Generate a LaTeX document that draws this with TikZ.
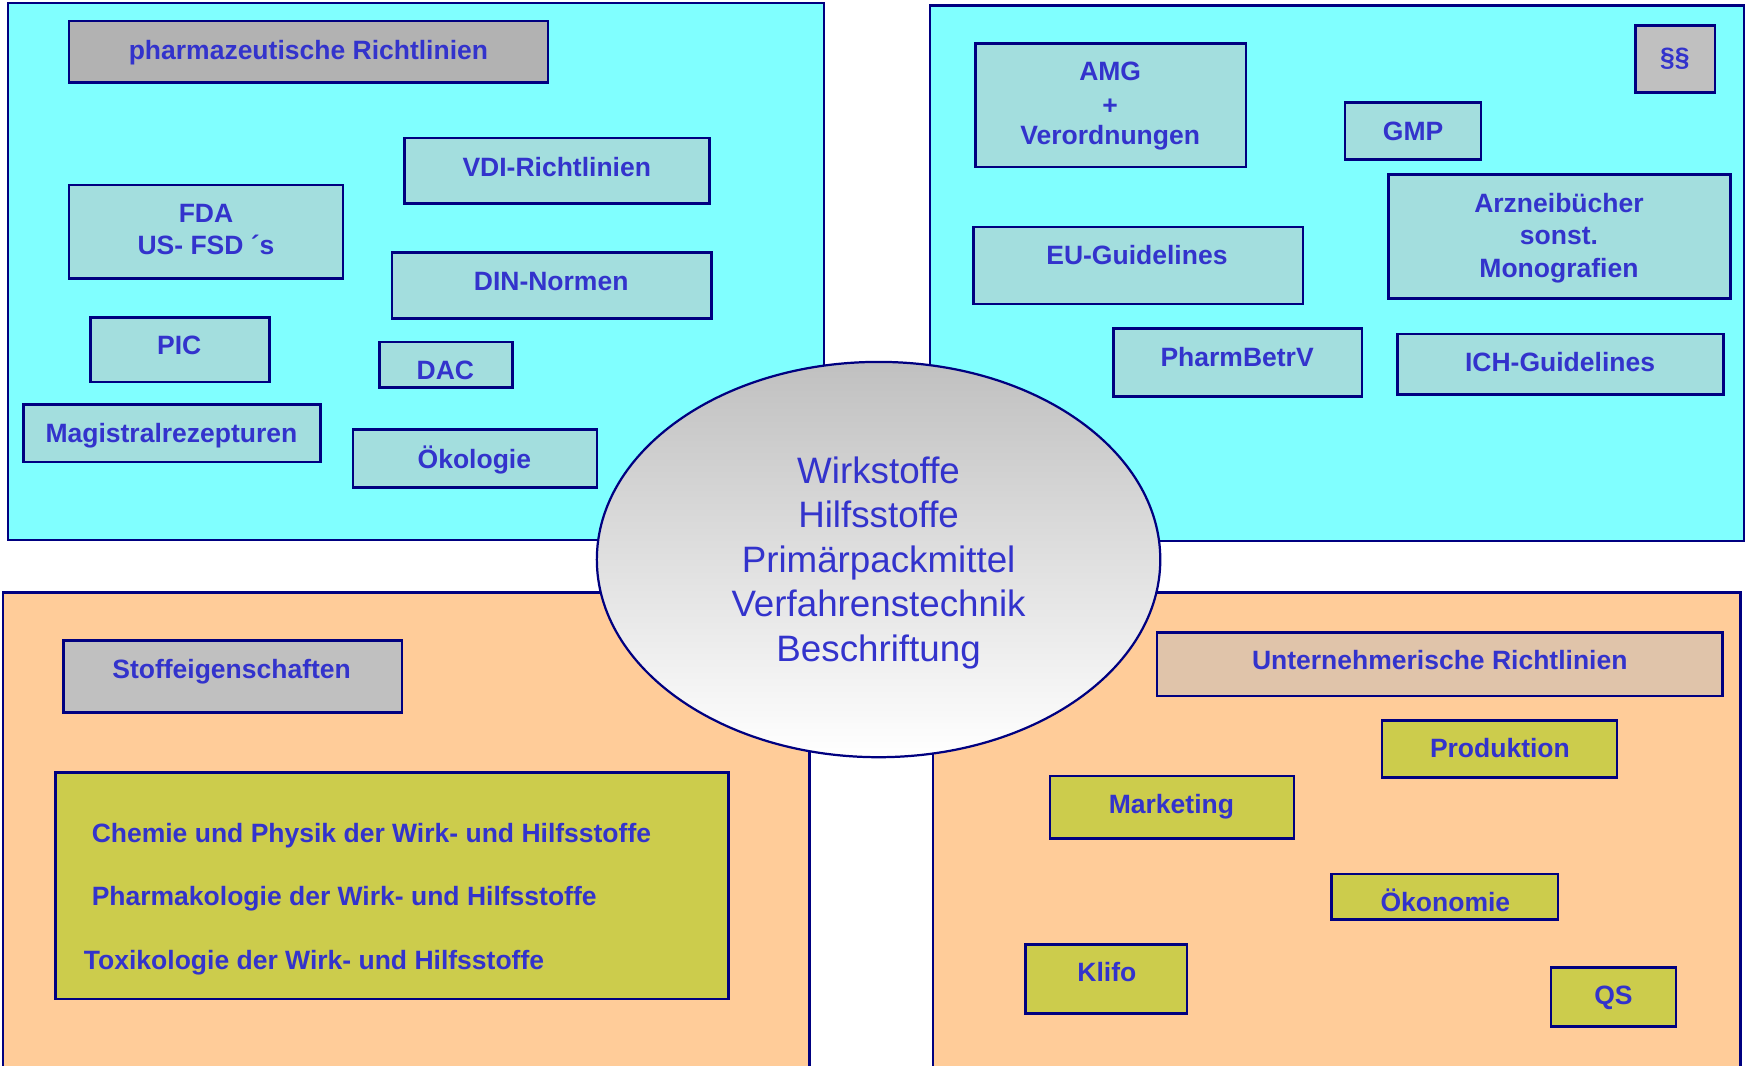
\documentclass[tikz,border=0pt]{standalone}
\usepackage{fontspec}
\setmainfont{Liberation Sans}
\usetikzlibrary{fit,shapes.geometric}
\definecolor{navy}{RGB}{0,0,128}
\definecolor{txtblue}{RGB}{51,51,204}
\definecolor{cyanbg}{RGB}{128,255,255}
\definecolor{peach}{RGB}{255,204,153}
\definecolor{tealbox}{RGB}{163,222,222}
\definecolor{grayboxa}{RGB}{178,178,178}
\definecolor{grayboxb}{RGB}{192,192,192}
\definecolor{olivebox}{RGB}{204,204,76}
\definecolor{tanbox}{RGB}{224,196,170}
\begin{document}
\begin{tikzpicture}[x=0.5pt,y=-0.5pt,
  panel/.style={draw=navy, line width=1pt, inner sep=0pt},
  frame/.style={draw=navy, line width=1.2pt, inner sep=0pt},
  lbl/.style={text=txtblue, font=\fontsize{11.9}{14}\selectfont\bfseries, anchor=base, inner sep=0pt},
  lblw/.style={lbl, anchor=base west},
  ctr/.style={text=txtblue, font=\fontsize{16.5}{20}\selectfont, anchor=base, inner sep=0pt}]
\clip (0,0) rectangle (1568,957);
\fill[white] (0,0) rectangle (1568,957);
% panels
\node[panel, fill=cyanbg, fit={(7,3) (740,485)}] (ptl) {};
\node[panel, fill=cyanbg, fit={(835,5) (1566,486)}] (ptr) {};
\node[panel, fill=peach, fit={(3,532) (727,980)}] (pbl) {};
\node[panel, fill=peach, fit={(838,532) (1563,980)}] (pbr) {};
% centre ellipse
\node[ellipse, draw=navy, line width=1pt, inner sep=0pt, minimum width=253pt, minimum height=177.5pt, top color=grayboxb, bottom color=white] (core) at (789,502.5) {};
\node[ctr] (c1) at (789,434) {Wirkstoffe};
\node[ctr] (c2) at (789,474) {Hilfsstoffe};
\node[ctr] (c3) at (789,514) {Primärpackmittel};
\node[ctr] (c4) at (789,554) {Verfahrenstechnik};
\node[ctr] (c5) at (789,594) {Beschriftung};
% top left
\node[frame, fill=grayboxa, fit={(62,19) (492,74)}] (bpharm) {};
\node[lbl] (tpharm) at (277,53.5) {pharmazeutische Richtlinien};
\node[frame, fill=tealbox, fit={(363,124) (637,183)}] (bvdi) {};
\node[lbl] (tvdi) at (500,158.5) {VDI-Richtlinien};
\node[frame, fill=tealbox, fit={(62,166) (308,250)}] (bfda) {};
\node[lbl] (tfdaa) at (185,199.5) {FDA};
\node[lbl] (tfdab) at (185,228.5) {US- FSD ´s};
\node[frame, fill=tealbox, fit={(352,227) (639,286)}] (bdin) {};
\node[lbl] (tdin) at (495,260.5) {DIN-Normen};
\node[frame, fill=tealbox, fit={(81,285) (242,343)}] (bpic) {};
\node[lbl] (tpic) at (161,318.5) {PIC};
\node[frame, fill=tealbox, fit={(341,307) (460,348)}] (bdac) {};
\node[lbl] (tdac) at (400,340.5) {DAC};
\node[frame, fill=tealbox, fit={(21,363) (288,415)}] (bmag) {};
\node[lbl] (tmag) at (154,397.5) {Magistralrezepturen};
\node[frame, fill=tealbox, fit={(317,386) (536,438)}] (boek) {};
\node[lbl] (toek) at (426,420.5) {Ökologie};
% top right
\node[frame, fill=tealbox, fit={(876,39) (1119,150)}] (bamg) {};
\node[lbl] (tamga) at (997,72.5) {AMG};
\node[lbl] (tamgb) at (997,102.5) {+};
\node[lbl] (tamgc) at (997,129.5) {Verordnungen};
\node[frame, fill=grayboxb, fit={(1469,23) (1540,83)}] (bpar) {};
\node[lbl] (tpar) at (1504,59.5) {§§};
\node[frame, fill=tealbox, fit={(1208,92) (1330,143)}] (bgmp) {};
\node[lbl] (tgmp) at (1269,126.5) {GMP};
\node[frame, fill=tealbox, fit={(1247,157) (1554,268)}] (barz) {};
\node[lbl] (tarza) at (1400,190.5) {Arzneibücher};
\node[lbl] (tarzb) at (1400,219.5) {sonst.};
\node[lbl] (tarzc) at (1400,249.5) {Monografien};
\node[frame, fill=tealbox, fit={(874,204) (1170,273)}] (beu) {};
\node[lbl] (teu) at (1021,237.5) {EU-Guidelines};
\node[frame, fill=tealbox, fit={(1000,295) (1223,356)}] (bpbv) {};
\node[lbl] (tpbv) at (1111,329.5) {PharmBetrV};
\node[frame, fill=tealbox, fit={(1255,300) (1548,354)}] (bich) {};
\node[lbl] (tich) at (1401,333.5) {ICH-Guidelines};
% bottom left
\node[frame, fill=grayboxb, fit={(57,575) (361,640)}] (bstoff) {};
\node[lbl] (tstoff) at (208,609.5) {Stoffeigenschaften};
\node[frame, fill=olivebox, fit={(50,694) (654,897)}] (bchem) {};
\node[lblw] (tchema) at (82,756.5) {Chemie und Physik der Wirk- und Hilfsstoffe};
\node[lblw] (tchemb) at (82,813.5) {Pharmakologie der Wirk- und Hilfsstoffe};
\node[lblw] (tchemc) at (75,870.5) {Toxikologie der Wirk- und Hilfsstoffe};
% bottom right
\node[frame, fill=tanbox, fit={(1039,568) (1547,625)}] (bunt) {};
\node[lbl] (tunt) at (1293,601.5) {Unternehmerische Richtlinien};
\node[frame, fill=olivebox, fit={(1241,647) (1452,698)}] (bprod) {};
\node[lbl] (tprod) at (1347,680.5) {Produktion};
\node[frame, fill=olivebox, fit={(943,697) (1162,753)}] (bmark) {};
\node[lbl] (tmark) at (1052,730.5) {Marketing};
\node[frame, fill=olivebox, fit={(1196,785) (1399,826)}] (boeko) {};
\node[lbl] (toeko) at (1298,818.5) {Ökonomie};
\node[frame, fill=olivebox, fit={(921,848) (1066,910)}] (bklifo) {};
\node[lbl] (tklifo) at (994,881.5) {Klifo};
\node[frame, fill=olivebox, fit={(1393,869) (1505,922)}] (bqs) {};
\node[lbl] (tqs) at (1449,902.5) {QS};
\end{tikzpicture}
\end{document}
